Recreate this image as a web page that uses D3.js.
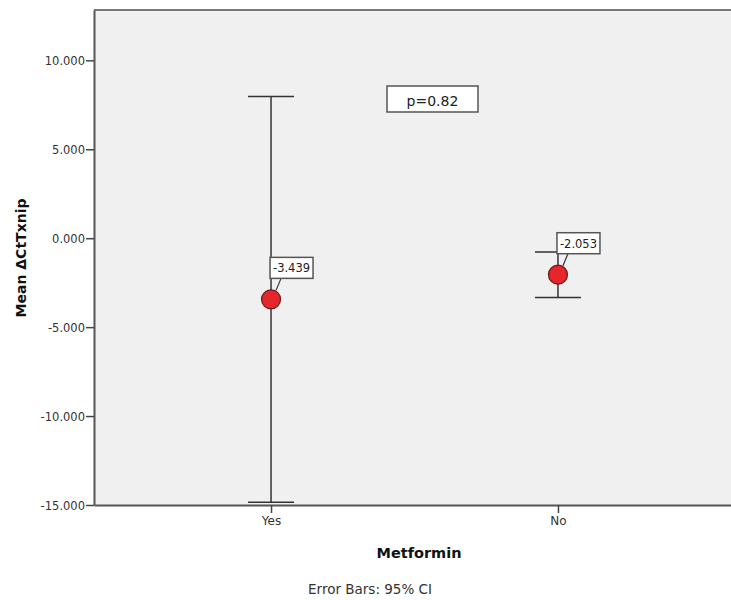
<!DOCTYPE html>
<html>
<head>
<meta charset="utf-8">
<script src="https://cdn.jsdelivr.net/npm/d3@7"></script>
<style>
  body { margin: 0; background: #fff; }
  svg { display: block; font-family: "DejaVu Sans", sans-serif; }
</style>
</head>
<body>
<svg id="chart" width="731" height="600"></svg>
<script>
// data
const categories = ["Yes", "No"];
const means = [-3.439, -2.053];
const ciLow = [-14.84, -3.33];
const ciHigh = [7.96, -0.77];
const meanLabels = ["-3.439", "-2.053"];
const yTicks = [-15, -10, -5, 0, 5, 10];
const pText = "p=0.82";

const svg = d3.select("#chart");
const margin = { left: 94, top: 10, bottom: 505, right: 735 };

const x = d3.scalePoint().domain(categories)
  .range([margin.left, margin.right]).padding(0.617);
const y = d3.scaleLinear().domain([-15, 12.83])
  .range([margin.bottom, margin.top]);

// plot background
svg.append("rect")
  .attr("x", margin.left).attr("y", margin.top)
  .attr("width", margin.right - margin.left)
  .attr("height", margin.bottom - margin.top)
  .attr("fill", "#f0f0f0");

svg.append("line")
  .attr("x1", margin.left).attr("x2", margin.right)
  .attr("y1", margin.top).attr("y2", margin.top)
  .attr("stroke", "#777").attr("stroke-width", 2);

// axes (SPSS uses a plain hyphen for minus)
const fmt = d => d3.format(".3f")(d).replace("−", "-");
const yAxis = svg.append("g")
  .attr("transform", `translate(${margin.left},0)`)
  .call(d3.axisLeft(y).tickValues(yTicks).tickFormat(fmt).tickSize(8).tickSizeOuter(0));
const xAxis = svg.append("g")
  .attr("transform", `translate(0,${margin.bottom})`)
  .call(d3.axisBottom(x).tickSize(8).tickSizeOuter(0));

[yAxis, xAxis].forEach(g => {
  g.select(".domain").attr("stroke", "#555").attr("stroke-width", 2);
  g.selectAll(".tick line").attr("stroke", "#444").attr("stroke-width", 1.5);
  g.selectAll("text").attr("fill", "#333")
    .style("font-family", "'DejaVu Sans', sans-serif");
});
yAxis.selectAll("text").attr("x", -9).attr("dy", "0.36em").style("font-size", "11.5px");
xAxis.selectAll("text").attr("y", 11).style("font-size", "12px");

// axis titles
svg.append("text")
  .attr("transform", `translate(26,258) rotate(-90)`)
  .attr("text-anchor", "middle")
  .style("font-size", "14px").style("font-weight", "bold").attr("fill", "#111")
  .text("Mean ΔCtTxnip");

svg.append("text")
  .attr("x", 419).attr("y", 558)
  .attr("text-anchor", "middle")
  .style("font-size", "14.5px").style("font-weight", "bold").attr("fill", "#111")
  .text("Metformin");

svg.append("text")
  .attr("x", 370).attr("y", 594)
  .attr("text-anchor", "middle")
  .style("font-size", "13.5px").attr("fill", "#333")
  .text("Error Bars: 95% CI");

// error bars
const rows = categories.map((c, i) => ({ c, m: means[i], lo: ciLow[i], hi: ciHigh[i], lab: meanLabels[i] }));
const capW = 23;

const bars = svg.append("g").attr("stroke", "#333").attr("stroke-width", 1.5);
bars.selectAll(".stem").data(rows).join("line")
  .attr("x1", d => x(d.c)).attr("x2", d => x(d.c))
  .attr("y1", d => y(d.hi)).attr("y2", d => y(d.lo));
bars.selectAll(".capHi").data(rows).join("line")
  .attr("x1", d => x(d.c) - capW).attr("x2", d => x(d.c) + capW)
  .attr("y1", d => y(d.hi)).attr("y2", d => y(d.hi));
bars.selectAll(".capLo").data(rows).join("line")
  .attr("x1", d => x(d.c) - capW).attr("x2", d => x(d.c) + capW)
  .attr("y1", d => y(d.lo)).attr("y2", d => y(d.lo));

// labels with leader lines
const lab = svg.append("g").selectAll("g").data(rows).join("g")
  .attr("transform", d => `translate(${x(d.c)},${y(d.m)})`);
lab.append("line")
  .attr("x1", 5).attr("y1", -9).attr("x2", 10).attr("y2", -21)
  .attr("stroke", "#333").attr("stroke-width", 1.2);
lab.append("rect")
  .attr("x", -1).attr("y", -42).attr("width", 43).attr("height", 21)
  .attr("fill", "#fff").attr("stroke", "#555").attr("stroke-width", 1.5);
lab.append("text")
  .attr("x", 20.5).attr("y", -27)
  .attr("text-anchor", "middle")
  .style("font-size", "11.5px").attr("fill", "#222")
  .text(d => d.lab);

// mean points
svg.append("g").selectAll("circle").data(rows).join("circle")
  .attr("cx", d => x(d.c)).attr("cy", d => y(d.m))
  .attr("r", 9.5)
  .attr("fill", "#e5262d").attr("stroke", "#6a1a1a").attr("stroke-width", 1.2);

// p value box
svg.append("rect")
  .attr("x", 387).attr("y", 86).attr("width", 91).attr("height", 26)
  .attr("fill", "#fff").attr("stroke", "#555").attr("stroke-width", 1.5);
svg.append("text")
  .attr("x", 432.5).attr("y", 106)
  .attr("text-anchor", "middle")
  .style("font-size", "14px").attr("fill", "#222")
  .text(pText);
</script>
</body>
</html>
